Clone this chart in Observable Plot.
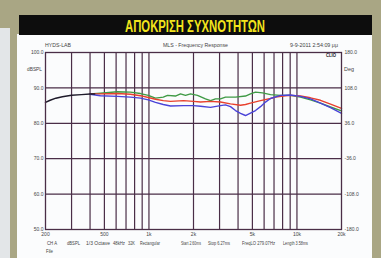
<!DOCTYPE html>
<html><head><meta charset="utf-8">
<script src="https://cdn.jsdelivr.net/npm/d3@7"></script>
<script src="https://cdn.jsdelivr.net/npm/@observablehq/plot@0.6"></script>
<style>html,body{margin:0;padding:0;background:#a9a684;} #chart svg{display:block}</style>
</head><body><div id="chart"></div>
<script>
// ---- texts ----
const titleText = "ΑΠΟΚΡΙΣΗ ΣΥΧΝΟΤΗΤΩΝ";
const headerLeft = "HYDS-LAB";
const headerMid = "MLS - Frequency Response";
const headerRight = "9-9-2011 2:54:09 μμ";
const leftUnit = "dBSPL";
const rightUnit = "Deg";
const logoText = "CLIO";
const infoItems = ["CH A","dBSPL","1/3 Octave","48kHz","32K","Rectangular","Start 2.60ms","Stop 6.27ms","FreqLO 279.07Hz","Length 3.58ms"];
const fileText = "File";

// ---- axes ----
const xGrid = [300,400,500,600,700,800,900,1000,2000,3000,4000,5000,6000,7000,8000,9000,10000];
const yGrid = [60,70,80,90];
const xTicks = [200,500,1000,2000,5000,6000,10000,20000];
const xTickLabels = ["200","500","1k","2k","5k","Hz","10k","20k"];
const yTicks = [50,60,70,80,90,100];
const yTickLabels = ["50.0","60.0","70.0","80.0","90.0","100.0"];
const phaseLabels = ["-180.0","-108.0","-36.0","36.0","108.0","180.0"];

// ---- series (Hz, dBSPL) ----
const blackF  = [200,215,235,260,300,350,400,430];
const blackDb = [85.9,86.5,87.1,87.5,87.9,88.1,88.3,88.3];

const greenF  = [400,470,613,750,877,990,1107,1250,1335,1510,1634,1766,1910,2128,2410,2606,2816,3041,3290,3845,4491,4855,5247,5850,6625,7740,8365,9040,10560,12350,14420,16860,20000];
const greenDb = [88.3,88.5,88.9,88.8,88.4,87.9,87.1,87.4,87.9,87.7,88.3,87.9,88.3,87.9,86.9,86.4,86.9,86.9,87.4,87.4,87.7,88.3,88.8,88.6,88.1,87.9,87.9,87.9,87.4,86.6,85.7,84.6,83.5];

const redF  = [400,470,613,750,877,990,1107,1250,1398,1712,2000,2230,2606,3041,3556,4155,4491,4855,5672,6625,7160,8365,9040,10560,12350,14420,16860,20000];
const redDb = [88.3,88.3,88.4,88.2,87.8,87.3,86.8,86.4,86.2,86.4,86.2,86.0,86.2,86.0,85.5,85.1,85.3,85.7,86.4,87.0,87.4,87.8,87.9,87.7,87.2,86.5,85.4,84.2];

const blueF  = [400,470,613,750,877,990,1107,1250,1398,1712,2000,2230,2606,3041,3290,3556,3845,4155,4491,4855,5247,5672,6130,6625,7740,9040,10560,12350,14420,16860,20000];
const blueDb = [88.2,87.8,87.6,87.4,87.1,86.6,85.9,85.3,84.9,85.0,85.0,84.8,84.5,85.0,85.2,84.7,83.6,82.8,82.2,82.9,83.6,84.7,86.0,87.0,87.9,88.0,87.6,86.9,85.7,84.4,82.8];

const rows = (f, db) => f.map((v, i) => ({f: v, db: db[i]}));
const gridColor = "#4a2e47";
const font = "Liberation Sans, Arial, sans-serif";

const chart = Plot.plot({
  width: 381, height: 258,
  marginLeft: 45, marginRight: 40, marginTop: 52, marginBottom: 29,
  style: {background: "transparent", fontFamily: font},
  x: {type: "log", domain: [200, 20000]},
  y: {domain: [50, 100]},
  marks: [
    Plot.ruleX(xGrid, {stroke: gridColor, strokeWidth: 1.2}),
    Plot.ruleY(yGrid, {stroke: gridColor, strokeWidth: 1.2}),
    Plot.line(rows(greenF, greenDb), {x: "f", y: "db", stroke: "#3f9a45", strokeWidth: 1.4}),
    Plot.line(rows(redF, redDb), {x: "f", y: "db", stroke: "#e8412e", strokeWidth: 1.4}),
    Plot.line(rows(blueF, blueDb), {x: "f", y: "db", stroke: "#4a44d8", strokeWidth: 1.4}),
    Plot.line(rows(blackF, blackDb), {x: "f", y: "db", stroke: "#1e1a2a", strokeWidth: 1.5}),
    Plot.frame({stroke: gridColor, strokeWidth: 1.3}),
    Plot.axisY({ticks: yTicks, anchor: "left", tickSize: 0, tickPadding: 2, fontSize: 5, fill: "#444",
      tickFormat: d => yTickLabels[yTicks.indexOf(d)], label: null}),
    Plot.axisY({ticks: yTicks, anchor: "right", tickSize: 0, tickPadding: 3, fontSize: 5, fill: "#444",
      tickFormat: d => phaseLabels[yTicks.indexOf(d)], label: null}),
    Plot.axisX({ticks: xTicks, anchor: "bottom", tickSize: 0, tickPadding: 3, fontSize: 5, fill: "#444",
      tickFormat: d => xTickLabels[xTicks.indexOf(d)], label: null})
  ]
});
document.getElementById("chart").appendChild(chart);

// backgrounds and annotation texts
const svg = d3.select(chart);
const bg = svg.insert("g", ":first-child");
bg.append("rect").attr("x", 0).attr("y", 0).attr("width", 381).attr("height", 258).attr("fill", "#a9a684");
bg.append("rect").attr("x", 0).attr("y", 28).attr("width", 10).attr("height", 230).attr("fill", "#e3e6e8");
bg.append("rect").attr("x", 17).attr("y", 34).attr("width", 355).attr("height", 224).attr("fill", "#fbfcfd");
bg.append("rect").attr("x", 19).attr("y", 15).attr("width", 353).attr("height", 20).attr("fill", "#0d0d0d");

const t = svg.append("g").attr("font-family", font).attr("text-anchor", "start");
t.append("text").text(titleText).attr("x", 125).attr("y", 32).attr("font-size", 16).attr("font-weight", "bold")
  .attr("text-anchor", "start")
  .attr("fill", "#f2e41c").attr("textLength", 140).attr("lengthAdjust", "spacingAndGlyphs");
const small = (s, x, y, len, opts = {}) => t.append("text").text(s).attr("x", x).attr("y", y)
  .attr("text-anchor", "start")
  .attr("font-size", opts.size || 5).attr("fill", opts.fill || "#444").attr("font-weight", opts.weight || "normal")
  .attr("textLength", len).attr("lengthAdjust", "spacingAndGlyphs");
small(headerLeft, 45, 47, 26);
small(headerMid, 163, 47, 65);
small(headerRight, 290, 47, 48);
small(leftUnit, 27, 71, 15);
small(rightUnit, 344, 71, 10);
small(logoText, 326, 57, 10, {size: 4.5, weight: "bold", fill: "#222"});
const infoX = [47, 67, 86, 113, 128, 140, 181, 208, 242, 283];
const infoLen = [10, 13, 24, 12, 7, 20, 20, 22, 33, 25];
infoItems.forEach((s, i) => small(s, infoX[i], 245, infoLen[i]));
small(fileText, 46, 253, 7);
</script>
</body></html>
